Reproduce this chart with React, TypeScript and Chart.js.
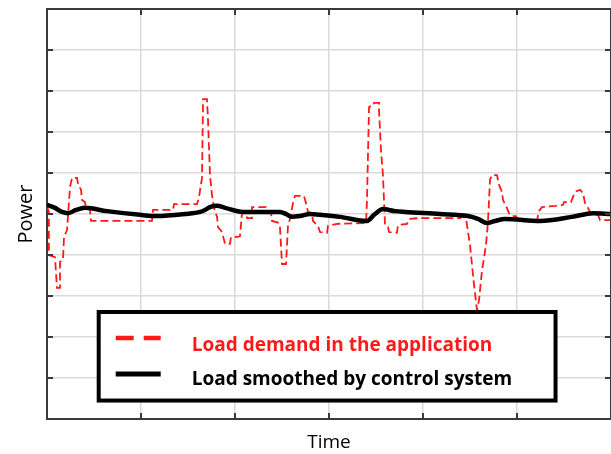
import React, { useEffect, useRef } from "react";
import { Chart, registerables } from "chart.js";

Chart.register(...registerables);

// ---- Data (time axis 0–60, power axis 0–100) ----
const demandTime = [
  0, 0.2, 0.2, 0.85, 1.06, 1.38, 1.38, 1.7, 1.81, 2.13, 2.45, 2.66, 3.19, 3.3, 3.62, 3.72, 4.04, 4.15, 4.57, 4.68,
  11.17, 11.28, 13.4, 13.51, 15.96, 16.17, 16.49, 16.6, 17.02, 17.13, 17.34, 17.55, 17.77, 18.09, 18.19, 18.62,
  18.94, 19.47, 19.57, 20.32, 20.53, 20.74, 21.17, 21.28, 21.81, 21.81, 23.3, 23.51, 23.83, 23.94, 24.68, 24.79,
  25.0, 25.43, 25.64, 25.85, 26.17, 26.38, 27.34, 27.55, 27.77, 28.19, 28.3, 28.83, 29.04, 29.79, 29.89, 30.85,
  33.94, 34.04, 34.26, 34.79, 34.79, 35.32, 35.32, 35.53, 35.74, 35.96, 36.28, 36.38, 37.23, 37.34, 38.3, 38.51,
  39.57, 43.94, 44.15, 44.57, 44.68, 45.0, 45.43, 45.74, 45.96, 46.28, 46.49, 46.7, 46.91, 47.13, 47.34, 47.87,
  48.09, 48.4, 48.51, 48.83, 49.15, 49.47, 49.89, 50.11, 52.13, 52.34, 52.66, 54.15, 54.89, 55.0, 55.74, 56.17,
  56.7, 57.02, 57.23, 57.55, 57.77, 58.09, 58.62, 58.83, 60.0,
];
const demandPower = [
  51.7, 50.5, 40.0, 39.5, 32.0, 32.0, 38.3, 38.8, 44.4, 46.1, 56.6, 58.8, 58.8, 57.3, 55.9, 53.4, 52.9, 51.5, 51.2, 48.3,
  48.3, 51.0, 51.0, 52.4, 52.4, 54.1, 58.8, 78.0, 78.0, 72.9, 59.5, 54.6, 51.5, 49.3, 46.8, 45.6,
  42.7, 42.7, 44.4, 44.4, 44.6, 50.2, 50.2, 49.0, 49.0, 51.7, 51.7, 50.2, 50.2, 48.3, 47.8, 46.6,
  37.8, 37.8, 47.3, 48.8, 52.7, 54.4, 54.4, 52.7, 50.5, 50.2, 48.3, 47.1, 45.6, 45.4, 47.1, 47.6,
  47.8, 53.4, 76.1, 76.6, 77.1, 77.1, 75.4, 65.6, 59.5, 47.3, 46.8, 45.6, 45.4, 47.3, 47.6, 48.8,
  49.0, 49.0, 49.3, 49.0, 47.3, 42.4, 32.7, 26.6, 29.0, 36.3, 39.3, 42.4, 48.0, 58.3, 59.5, 59.5,
  57.1, 55.4, 53.4, 52.0, 50.2, 49.5, 49.5, 48.5, 48.5, 50.7, 51.7, 52.0, 52.2, 52.9, 52.9, 55.4,
  55.9, 55.1, 52.7, 51.5, 50.5, 50.0, 49.8, 48.5, 48.5,
];
const smoothTime = [
  0, 0.85, 1.6, 2.23, 3.09, 4.04, 6.38, 9.89, 11.7, 14.68, 16.28, 16.81, 17.34, 18.09, 18.94, 20.85, 22.66,
  24.79, 25.43, 26.06, 26.91, 27.98, 29.04, 31.17, 34.04, 34.89, 35.74, 37.02, 38.09, 41.81, 44.79, 45.85,
  46.81, 47.66, 48.72, 52.45, 55.85, 58.09, 60.0,
];
const smoothPower = [
  52.2, 51.5, 50.5, 50.2, 51.0, 51.5, 50.7, 49.8, 49.5, 50.0, 50.5, 51.0, 51.7, 52.0, 51.5, 50.5, 50.5,
  50.5, 50.0, 49.3, 49.5, 50.0, 49.8, 49.3, 48.3, 50.0, 51.2, 50.7, 50.5, 50.0, 49.5, 48.8,
  47.8, 48.3, 48.8, 48.3, 49.3, 50.2, 50.0,
];
const xLimits = [0, 60];
const yLimits = [0, 100];
const gridStep = 10;
const seriesLabels = ["Load demand in the application", "Load smoothed by control system"];
const xTitle = "Time";
const yTitle = "Power";

const RED = "#ff1a1a";
const AXIS = "#3a3a3a";

const framePlugin = {
  id: "frameTicks",
  afterDatasetsDraw(chart: any) {
    const { ctx, chartArea: a, scales } = chart;
    ctx.save();
    ctx.strokeStyle = AXIS;
    ctx.lineWidth = 2;
    ctx.beginPath();
    ctx.moveTo(a.left, a.top);
    ctx.lineTo(a.right, a.top);
    ctx.moveTo(a.right, a.top);
    ctx.lineTo(a.right, a.bottom);
    const L = 6;
    scales.x.ticks.forEach((t: any) => {
      const px = scales.x.getPixelForValue(t.value);
      ctx.moveTo(px, a.top);
      ctx.lineTo(px, a.top + L);
      ctx.moveTo(px, a.bottom);
      ctx.lineTo(px, a.bottom - L);
    });
    scales.y.ticks.forEach((t: any) => {
      const py = scales.y.getPixelForValue(t.value);
      ctx.moveTo(a.left, py);
      ctx.lineTo(a.left + L, py);
      ctx.moveTo(a.right, py);
      ctx.lineTo(a.right - L, py);
    });
    ctx.stroke();
    ctx.restore();
  },
  afterDraw(chart: any) {
    // legend box placed inside the plot (data-unit anchors)
    const { ctx, scales } = chart;
    const x0 = scales.x.getPixelForValue(5.5);
    const x1 = scales.x.getPixelForValue(54.1);
    const y0 = scales.y.getPixelForValue(26.1);
    const y1 = scales.y.getPixelForValue(4.5);
    ctx.save();
    ctx.fillStyle = "#ffffff";
    ctx.fillRect(x0, y0, x1 - x0, y1 - y0);
    ctx.strokeStyle = "#000";
    ctx.lineWidth = 4;
    ctx.strokeRect(x0, y0, x1 - x0, y1 - y0);

    const ds = chart.data.datasets;
    const rows = [
      { d: ds[1], lineY: y0 + 26, textY: y0 + 39 },
      { d: ds[0], lineY: y0 + 62, textY: y0 + 73 },
    ];
    ctx.font = "bold 19px 'Open Sans'";
    ctx.textBaseline = "alphabetic";
    ctx.textAlign = "left";
    rows.forEach((r) => {
      ctx.beginPath();
      ctx.strokeStyle = r.d.borderColor;
      ctx.lineWidth = r.d.legendWidth;
      ctx.setLineDash(r.d.legendDash);
      ctx.moveTo(x0 + 17, r.lineY);
      ctx.lineTo(x0 + 62, r.lineY);
      ctx.stroke();
      ctx.setLineDash([]);
      ctx.fillStyle = r.d.borderColor;
      ctx.fillText(r.d.label, x0 + 93, r.textY);
    });
    ctx.restore();
  },
};

export default function App() {
  const ref = useRef<HTMLCanvasElement>(null);

  useEffect(() => {
    document.body.style.margin = "0";
    const canvas = ref.current!;
    const chart = new Chart(canvas, {
      type: "line",
      data: {
        datasets: [
          {
            label: seriesLabels[1],
            data: smoothTime.map((t, i) => ({ x: t, y: smoothPower[i] })),
            borderColor: "#000000",
            borderWidth: 4.5,
            pointRadius: 0,
            cubicInterpolationMode: "monotone",
            order: 1,
            legendWidth: 5,
            legendDash: [],
          } as any,
          {
            label: seriesLabels[0],
            data: demandTime.map((t, i) => ({ x: t, y: demandPower[i] })),
            borderColor: RED,
            borderWidth: 1.8,
            borderDash: [8, 4],
            pointRadius: 0,
            tension: 0,
            order: 2,
            legendWidth: 4.5,
            legendDash: [18, 10],
          } as any,
        ],
      },
      options: {
        animation: false,
        responsive: false,
        layout: { padding: { top: 9, left: 0, right: 0, bottom: 0 } },
        plugins: { legend: { display: false }, tooltip: { enabled: false } },
        scales: {
          x: {
            type: "linear",
            min: xLimits[0],
            max: xLimits[1],
            ticks: { display: false, stepSize: gridStep },
            grid: { color: "#dadada", lineWidth: 1.5, drawTicks: false },
            border: { display: true, color: AXIS, width: 2 },
            title: {
              display: true,
              text: xTitle,
              color: "#000",
              font: { family: "'Open Sans'", size: 19 },
              padding: { top: 0, bottom: 0 },
            },
            afterFit: (s: any) => {
              s.height = 35;
            },
          },
          y: {
            type: "linear",
            min: yLimits[0],
            max: yLimits[1],
            ticks: { display: false, stepSize: gridStep },
            grid: { color: "#dadada", lineWidth: 1.5, drawTicks: false },
            border: { display: true, color: AXIS, width: 2 },
            title: {
              display: true,
              text: yTitle,
              color: "#000",
              font: { family: "'Open Sans'", size: 20 },
              padding: { top: 14, bottom: 0 },
            },
            afterFit: (s: any) => {
              s.width = 47;
            },
          },
        },
      },
      plugins: [framePlugin],
    });
    return () => chart.destroy();
  }, []);

  return (
    <div style={{ position: "absolute", left: 0, top: 0, width: 611, height: 454 }}>
      <canvas ref={ref} width={611} height={454} style={{ display: "block" }} />
    </div>
  );
}
